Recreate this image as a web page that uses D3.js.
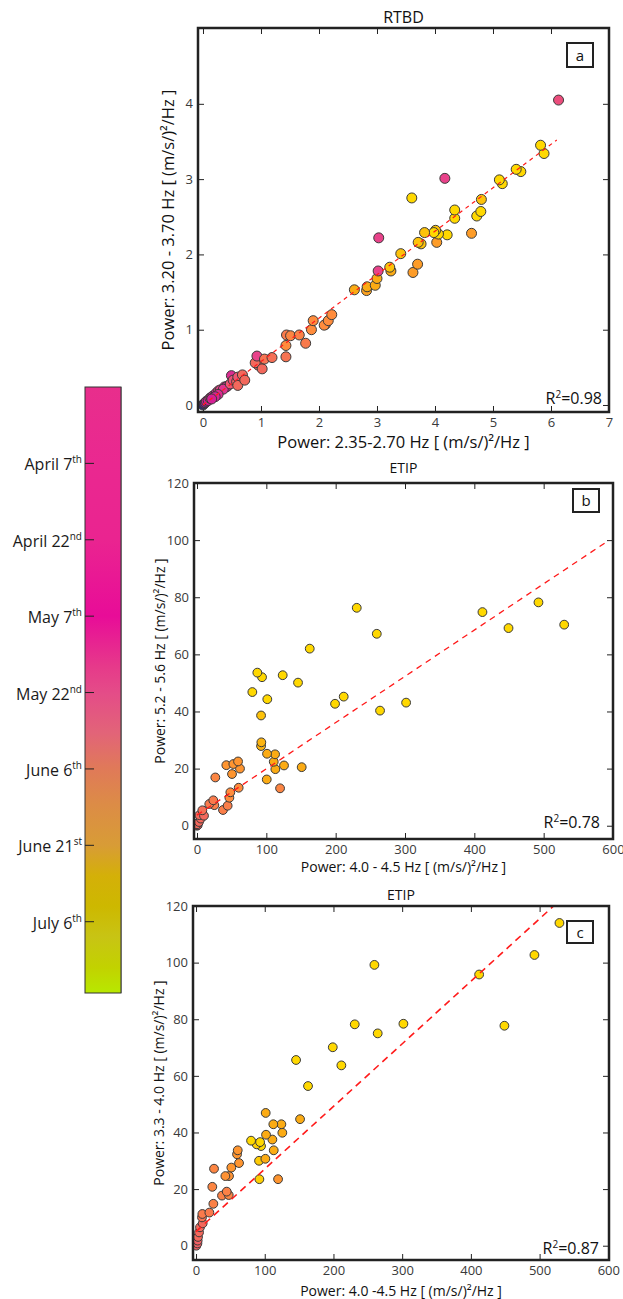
<!DOCTYPE html>
<html><head><meta charset="utf-8">
<script src="https://cdn.jsdelivr.net/npm/d3@7"></script>
<style>
body{margin:0;background:#fff}
svg{display:block}
text{font-family:"Open Sans",sans-serif}
</style>
</head><body>
<svg id="chart" width="623" height="1299"></svg>
<script>
// ---------- DATA ----------
// Panel a: RTBD  (x: Power 2.35-2.70 Hz, y: Power 3.20-3.70 Hz, c: colour index 0 navy .. 6 yellow)
const aX = [0.00,0.02,0.04,0.06,0.09,0.12,0.14,0.17,0.20,0.23,0.27,0.30,0.37,0.42,0.40,0.35,0.26,0.21,0.15,
  0.49,0.47,0.52,0.58,0.60,0.60,0.68,0.72,0.95,0.90,0.93,1.02,1.06,1.19,1.43,1.43,1.44,1.51,1.66,1.77,
  1.87,1.90,2.11,2.09,2.16,2.22,2.61,2.82,2.83,2.97,3.00,3.24,3.22,3.02,3.62,3.70,3.41,3.76,3.71,4.03,
  4.63,4.21,4.06,4.01,3.98,3.82,3.03,4.72,4.79,4.34,4.34,4.80,5.16,5.11,5.48,5.40,5.88,5.82,3.60,4.17,6.13];
const aY = [0.00,0.02,0.03,0.05,0.06,0.09,0.10,0.12,0.12,0.16,0.19,0.20,0.24,0.25,0.24,0.21,0.14,0.11,0.08,
  0.39,0.28,0.33,0.31,0.37,0.26,0.40,0.33,0.53,0.56,0.65,0.48,0.61,0.63,0.64,0.79,0.93,0.92,0.93,0.82,
  1.00,1.12,1.07,1.06,1.12,1.20,1.53,1.52,1.57,1.59,1.68,1.78,1.83,1.78,1.76,1.87,2.01,2.14,2.16,2.16,
  2.28,2.26,2.27,2.32,2.29,2.29,2.22,2.51,2.57,2.48,2.59,2.73,2.94,2.99,3.10,3.13,3.34,3.45,2.75,3.01,4.05];
const aC = [0,0.3,0.5,1,1,2,1.5,1.2,1.5,1.3,2.2,2,1.5,2,1.3,1.6,1.4,1.2,1.1,
  1.4,2.5,2.4,2.8,2.5,3,3,3,3,3,2,3,3.3,3.2,3.3,4,3.5,3.8,3.7,3.5,
  4,4,4,4,4,4,5,4.7,5,5,5,5,5.5,2,4.5,4.5,5.5,5.5,5.5,4.5,
  4.5,6,6,5.5,6,5.5,2,6,6,6,6,5.5,6,6,6,6,6,6,6,2,2.3];

// Panel b: ETIP  (x: Power 4.0-4.5 Hz, y: Power 5.2-5.6 Hz)
const bX = [0,1,0,2.8,5.5,3.4,10.1,7.7,37.5,44.2,25,17.7,23.5,46.7,48.1,60.1,26.4,50.5,62.0,42.3,52.4,59.2,
  119.8,100.6,151,113,125.5,110.7,112.6,101,92.4,92.8,92.4,
  301.6,264,211.6,199.1,145.7,101.4,79.8,123.6,93.8,87.0,529.6,492.5,449.3,411.7,162.6,259.3,230.4];
const bY = [0,0.2,0.5,1.3,2.5,3.7,3.5,5.4,5.5,7.0,7.2,7.6,8.9,9.8,11.7,13.3,16.9,18.1,20.0,21.2,21.6,22.5,
  13.1,16.2,20.5,19.8,21.1,22.4,25.0,25.2,27.9,29.2,38.6,
  43.1,40.3,45.2,42.7,50.1,44.3,46.8,52.7,52.0,53.6,70.4,78.2,69.2,74.8,62.0,67.2,76.3];
const bC = [2.8,2.8,3,3,3,3,3,3.2,3.6,3.6,3.6,3.5,3.5,4,4,4,3.8,4.3,4.3,4.3,4.3,4.3,
  3.8,5,5,5,5,5,5,5,5.2,5.2,5.5,
  6,6,6,6,6,6,6,6,6,6,6,6,6,6,6,6,6];

// Panel c: ETIP  (x: Power 4.0-4.5 Hz, y: Power 3.3-4.0 Hz)
const cX = [0.5,2,2.4,2.9,4.4,5.8,9.7,8.7,9.2,19.4,25.2,37.8,47.6,44.7,23.7,48,42.7,26.2,51.4,62.6,59.7,60.7,
  119.4,92.2,91.7,100.9,113.1,94.6,88.3,93.2,80.1,111.1,125.6,101.9,124.2,112.5,151.4,101.4,
  163,211.5,145.6,199,264.4,448.8,301.8,231,412,259.6,492.5,528.9];
const cY = [0,0.8,1.8,3.1,4.7,6.5,7.9,10.0,11.2,11.7,14.8,17.7,17.9,19.1,20.8,24.6,24.6,27.2,27.6,29.2,32.3,33.7,
  23.5,23.5,30.0,30.7,33.7,35.2,35.8,36.6,37.1,37.5,39.9,39.2,42.9,42.9,44.7,46.9,
  56.4,63.7,65.6,70.1,75.0,77.7,78.4,78.2,95.8,99.2,102.7,114.0];
const cC = [2.8,2.8,2.8,3,3,3,3,3.3,3.5,3.5,3.7,3.7,3.8,3.7,3.8,4.2,4.2,3.8,4.3,4.3,4.3,4.3,
  4.3,5.8,5.7,5,5,6,5.8,6,6,5,5,5,5,5,5,5,
  6,6,6,6,6,6,6,6,6,6,6,6];

// Fit lines  y = intercept + slope * x, drawn from x = 0 to fitXEnd
const fitIntercept = [0, 3.7, 5.0];
const fitSlope = [0.577, 0.162, 0.221];
const fitXEnd = [6.1, 594, 520];
const r2Values = ["0.98", "0.78", "0.87"];

// Tick values
const aXTicks = [0,1,2,3,4,5,6,7];
const aYTicks = [0,1,2,3,4];
const bXTicks = [0,100,200,300,400,500,600];
const bYTicks = [0,20,40,60,80,100,120];
const cXTicks = [0,100,200,300,400,500,600];
const cYTicks = [0,20,40,60,80,100,120];

// Colour bar: days since March 23rd
const cbTickDays = [15,30,45,60,75,90,105];
const cbTickMain = ["April 7","April 22","May 7","May 22","June 6","June 21","July 6"];
const cbTickSup = ["th","nd","th","nd","th","st","th"];
const cbStopDays = [0,15,30,45,55,60,68,75,82,90,96,102,108,114,119];
const cbStopColors = ["#e82e8c","#ea2890","#ea2490","#e80c98","#e63a8a","#e44c88","#e26478","#e07a58",
  "#dc8c46","#d89c36","#d4b008","#cdb800","#c8c414","#c2d200","#b8e800"];

// Point colour scale stops (colour index -> colour)
const ptIdx = [0,1,2,3,4,5,6];
const ptColors = ["#2b2b7a","#d21c96","#e8428a","#f2685c","#ff8c3c","#fbab14","#ffd800"];

// ---------- DRAWING ----------
const svg = d3.select("#chart");
const ptColor = d3.scaleLinear().domain(ptIdx).range(ptColors);

const panels = [
  {x:aX,y:aY,c:aC,xt:aXTicks,yt:aYTicks,L:198,R:609,T:28,B:412,xd:[-0.086,7],yd:[-0.093,5.007],
   r:5,title:"RTBD",tsize:16,ty:23,xlab:"Power: 2.35-2.70 Hz [ (m/s/)\u00B2/Hz ]",
   ylab:"Power: 3.20 - 3.70 Hz [ (m/s/)\u00B2/Hz ]",lsize:16.5,xly:448,ylx:174,letter:"a",
   box:[567,43,26,24],r2x:602,r2y:404,dash:"4,4",dw:1.2},
  {x:bX,y:bY,c:bC,xt:bXTicks,yt:bYTicks,L:194,R:613,T:483,B:839,xd:[-4.33,600],yd:[-4.65,120],
   r:4.4,title:"ETIP",tsize:14,ty:473,xlab:"Power: 4.0 - 4.5 Hz [ (m/s/)\u00B2/Hz ]",
   ylab:"Power: 5.2 - 5.6 Hz [ (m/s/)\u00B2/Hz ]",lsize:14,xly:872,ylx:165,letter:"b",
   box:[573,489,26,23],r2x:600,r2y:828,dash:"6,5",dw:1.3},
  {x:cX,y:cY,c:cC,xt:cXTicks,yt:cYTicks,L:193,R:609,T:906,B:1260,xd:[-4.4,601],yd:[-5.05,120],
   r:4.4,title:"ETIP",tsize:14,ty:900,xlab:"Power: 4.0 -4.5 Hz [ (m/s/)\u00B2/Hz ]",
   ylab:"Power: 3.3 - 4.0 Hz [ (m/s/)\u00B2/Hz ]",lsize:14,xly:1296,ylx:164,letter:"c",
   box:[567,921,26,22],r2x:599,r2y:1254,dash:"7,5",dw:1.6}
];

panels.forEach((p,i)=>{
  const g = svg.append("g");
  const xs = d3.scaleLinear().domain(p.xd).range([p.L,p.R]);
  const ys = d3.scaleLinear().domain(p.yd).range([p.B,p.T]);

  const cid = "clip"+i;
  svg.append("clipPath").attr("id",cid).append("rect")
    .attr("x",p.L).attr("y",p.T).attr("width",p.R-p.L).attr("height",p.B-p.T);

  const tl = 6;
  g.append("g").attr("transform",`translate(0,${p.B})`)
    .call(d3.axisBottom(xs).tickValues(p.xt).tickSize(-tl).tickPadding(4).tickFormat(d3.format("d")))
    .call(s=>{s.select(".domain").remove();
      s.selectAll("text").attr("font-size",13).attr("fill","#3a3a3a").attr("dy","0.85em").style("font-family","'Open Sans',sans-serif");
      s.selectAll("line").attr("stroke","#222");});
  g.append("g").attr("transform",`translate(0,${p.T})`)
    .call(d3.axisTop(xs).tickValues(p.xt).tickSize(-tl).tickFormat(""))
    .call(s=>{s.select(".domain").remove(); s.selectAll("line").attr("stroke","#222");});
  g.append("g").attr("transform",`translate(${p.L},0)`)
    .call(d3.axisLeft(ys).tickValues(p.yt).tickSize(-tl).tickPadding(5).tickFormat(d3.format("d")))
    .call(s=>{s.select(".domain").remove();
      s.selectAll("text").attr("font-size",13).attr("fill","#3a3a3a").style("font-family","'Open Sans',sans-serif");
      s.selectAll("line").attr("stroke","#222");});
  g.append("g").attr("transform",`translate(${p.R},0)`)
    .call(d3.axisRight(ys).tickValues(p.yt).tickSize(-tl).tickFormat(""))
    .call(s=>{s.select(".domain").remove(); s.selectAll("line").attr("stroke","#222");});

  const data = p.x.map((v,k)=>({x:v,y:p.y[k],c:p.c[k]}));
  g.append("g").attr("clip-path",`url(#${cid})`).selectAll("circle").data(data).join("circle")
    .attr("cx",d=>xs(d.x)).attr("cy",d=>ys(d.y)).attr("r",p.r)
    .attr("fill",d=>ptColor(d.c)).attr("stroke","#3a3a3a").attr("stroke-width",1);

  const fx = [0, fitXEnd[i]];
  g.append("path").attr("clip-path",`url(#${cid})`)
    .attr("d",d3.line().x(d=>xs(d)).y(d=>ys(fitIntercept[i]+fitSlope[i]*d))(fx))
    .attr("fill","none").attr("stroke","#ff1a1a").attr("stroke-width",p.dw).attr("stroke-dasharray",p.dash);

  g.append("rect").attr("x",p.L).attr("y",p.T).attr("width",p.R-p.L).attr("height",p.B-p.T)
    .attr("fill","none").attr("stroke","#222").attr("stroke-width",2.5);

  g.append("text").attr("x",(p.L+p.R)/2).attr("y",p.ty).attr("text-anchor","middle")
    .attr("font-size",p.tsize).attr("fill","#111").text(p.title);
  g.append("text").attr("x",(p.L+p.R)/2).attr("y",p.xly).attr("text-anchor","middle")
    .attr("font-size",p.lsize).attr("fill","#111").text(p.xlab);
  g.append("text").attr("transform",`translate(${p.ylx},${(p.T+p.B)/2}) rotate(-90)`)
    .attr("text-anchor","middle").attr("font-size",p.lsize).attr("fill","#111").text(p.ylab);
  g.append("rect").attr("x",p.box[0]).attr("y",p.box[1]).attr("width",p.box[2]).attr("height",p.box[3])
    .attr("fill","#fff").attr("stroke","#222").attr("stroke-width",2);
  g.append("text").attr("x",p.box[0]+p.box[2]/2).attr("y",p.box[1]+p.box[3]/2+5.5)
    .attr("text-anchor","middle").attr("font-size",15).attr("fill","#111").text(p.letter);
  const rt = g.append("text").attr("x",p.r2x).attr("y",p.r2y).attr("text-anchor","end")
    .attr("font-size",16).attr("fill","#111");
  rt.append("tspan").text("R");
  rt.append("tspan").attr("font-size",10).attr("dy",-6).text("2");
  rt.append("tspan").attr("dy",6).text("="+r2Values[i]);
});

// ---------- COLOUR BAR ----------
const cbX = 85, cbW = 36, cbTop = 387, cbBot = 993;
const cbScale = d3.scaleLinear().domain([0,119]).range([cbTop,cbBot]);
const defs = svg.append("defs");
const grad = defs.append("linearGradient").attr("id","cbgrad")
  .attr("x1",0).attr("y1",0).attr("x2",0).attr("y2",1);
cbStopDays.forEach((d,k)=>{
  grad.append("stop").attr("offset",(d/119*100)+"%").attr("stop-color",cbStopColors[k]);
});
svg.append("rect").attr("x",cbX+1).attr("y",cbTop).attr("width",cbW).attr("height",cbBot-cbTop)
  .attr("fill","#aaa");
svg.append("rect").attr("x",cbX).attr("y",cbTop).attr("width",cbW).attr("height",cbBot-cbTop)
  .attr("fill","url(#cbgrad)").attr("stroke","#333").attr("stroke-width",1);
const cbg = svg.append("g");
cbTickDays.forEach((d,k)=>{
  const y = cbScale(d);
  cbg.append("line").attr("x1",cbX).attr("x2",cbX+9).attr("y1",y).attr("y2",y)
    .attr("stroke","#222").attr("stroke-width",1);
  const t = cbg.append("text").attr("x",82).attr("y",y+7).attr("text-anchor","end")
    .attr("font-size",16).attr("fill","#1a1a1a");
  t.append("tspan").text(cbTickMain[k]);
  t.append("tspan").attr("font-size",10).attr("dy",-7).text(cbTickSup[k]);
});
</script>
</body></html>
